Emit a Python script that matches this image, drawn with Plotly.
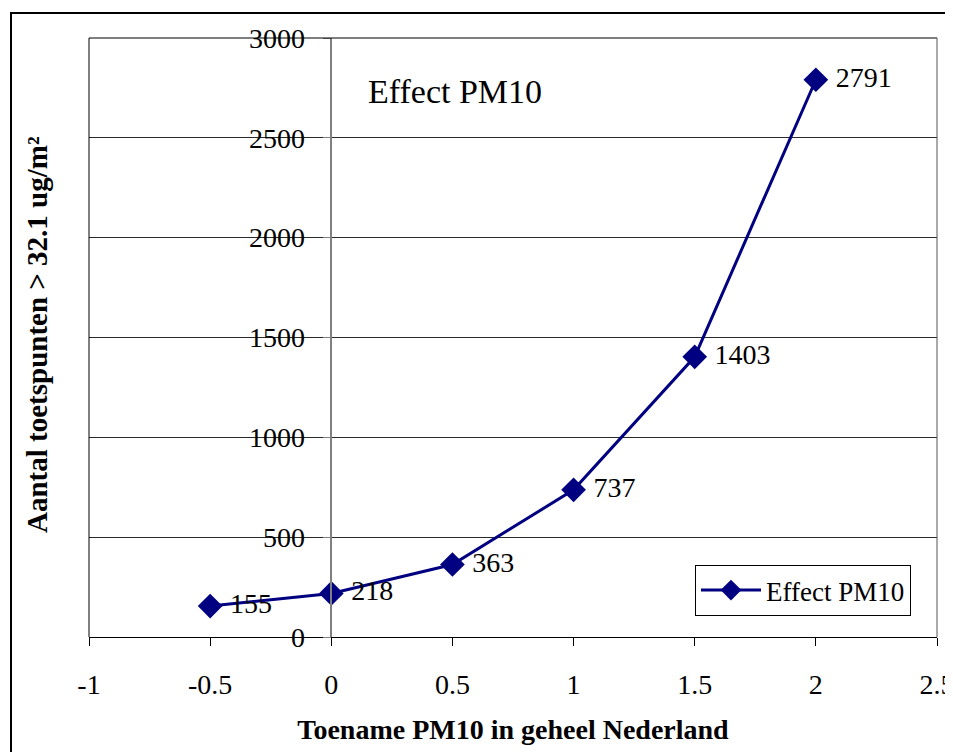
import plotly.graph_objects as go

x_vals = [-0.5, 0, 0.5, 1, 1.5, 2]
y_vals = [155, 218, 363, 737, 1403, 2791]
series_name = "Effect PM10"
x_title = "Toename PM10 in geheel Nederland"
y_title = "Aantal toetspunten > 32.1 ug/m²"
x_ticks = [-1, -0.5, 0, 0.5, 1, 1.5, 2, 2.5]
y_ticks = [0, 500, 1000, 1500, 2000, 2500, 3000]

FONT = "Liberation Serif, Times New Roman, serif"
NAVY = "#000080"

# page body has an 8px margin; compensate
OFF = 8
W, H = 953 - OFF, 752 - OFF
# plot area in window pixels: left 89, right 937, top 38, bottom 637
L, T = 89 - OFF, 38 - OFF
R = W - (937 - OFF)
B = H - (637 - OFF)
pw, ph = W - L - R, H - T - B

def px_x(px):
    return (px - OFF - L) / pw

def px_y(py):
    return (H - B - (py - OFF)) / ph

fig = go.Figure()
fig.add_trace(go.Scatter(
    x=x_vals, y=y_vals, mode="lines+markers+text", name=series_name,
    line=dict(color=NAVY, width=3),
    marker=dict(symbol="diamond", size=19, color=NAVY),
    text=[" " + str(v) for v in y_vals], textposition="middle right",
    textfont=dict(family=FONT, size=28, color="black"),
    cliponaxis=False,
))

fig.update_layout(
    width=W, height=H,
    margin=dict(l=L, r=R, t=T, b=B, autoexpand=False),
    paper_bgcolor="white", plot_bgcolor="white",
    font=dict(family=FONT, size=28, color="black"),
    showlegend=True,
    legend=dict(
        x=px_x(695), y=px_y(565), xanchor="left", yanchor="top",
        bgcolor="white", bordercolor="black", borderwidth=1,
        font=dict(family=FONT, size=27, color="black"),
        itemwidth=60, tracegroupgap=0,
    ),
    xaxis=dict(
        range=[-1, 2.5], tickvals=x_ticks,
        ticktext=[("%g" % v) for v in x_ticks],
        showgrid=False, zeroline=False, automargin=False,
        showline=True, linecolor="black", linewidth=1,
        ticks="outside", ticklen=8, tickcolor="black",
        tickfont=dict(family=FONT, size=28),
        ticklabelstandoff=14, ticklabeloverflow="allow",
        title=dict(text="<b>" + x_title + "</b>", font=dict(family=FONT, size=28), standoff=20),
    ),
    yaxis=dict(
        range=[0, 3000], tickvals=y_ticks,
        anchor="free", position=(0 - (-1)) / 3.5, automargin=False,
        showgrid=True, gridcolor="#2a2a2a", gridwidth=1,
        zeroline=False,
        showline=True, linecolor="#808080", linewidth=1.5,
        ticks="outside", ticklen=8, tickcolor="#808080",
        tickfont=dict(family=FONT, size=28),
        ticklabelstandoff=12, ticklabeloverflow="allow",
    ),
    annotations=[
        dict(text="<b>" + y_title + "</b>", textangle=-90,
             x=px_x(37), y=px_y(335), xref="paper", yref="paper",
             showarrow=False, font=dict(family=FONT, size=29), xanchor="center", yanchor="middle"),
        dict(text="Effect PM10", x=px_x(455), y=px_y(92),
             xref="paper", yref="paper", showarrow=False,
             font=dict(family=FONT, size=34), xanchor="center", yanchor="middle"),
    ],
    shapes=[
        dict(type="line", xref="paper", yref="paper", x0=0, x1=0, y0=0, y1=1,
             line=dict(color="black", width=1)),
        dict(type="line", xref="paper", yref="paper", x0=0, x1=1, y0=1, y1=1,
             line=dict(color="black", width=1)),
        dict(type="line", xref="paper", yref="paper", x0=1, x1=1, y0=0, y1=1,
             line=dict(color="#555555", width=1)),
        dict(type="rect", xref="paper", yref="paper",
             x0=px_x(11), x1=px_x(1000),
             y0=px_y(800), y1=px_y(13),
             line=dict(color="black", width=2), layer="above"),
    ],
)

fig.write_html("out.html")
